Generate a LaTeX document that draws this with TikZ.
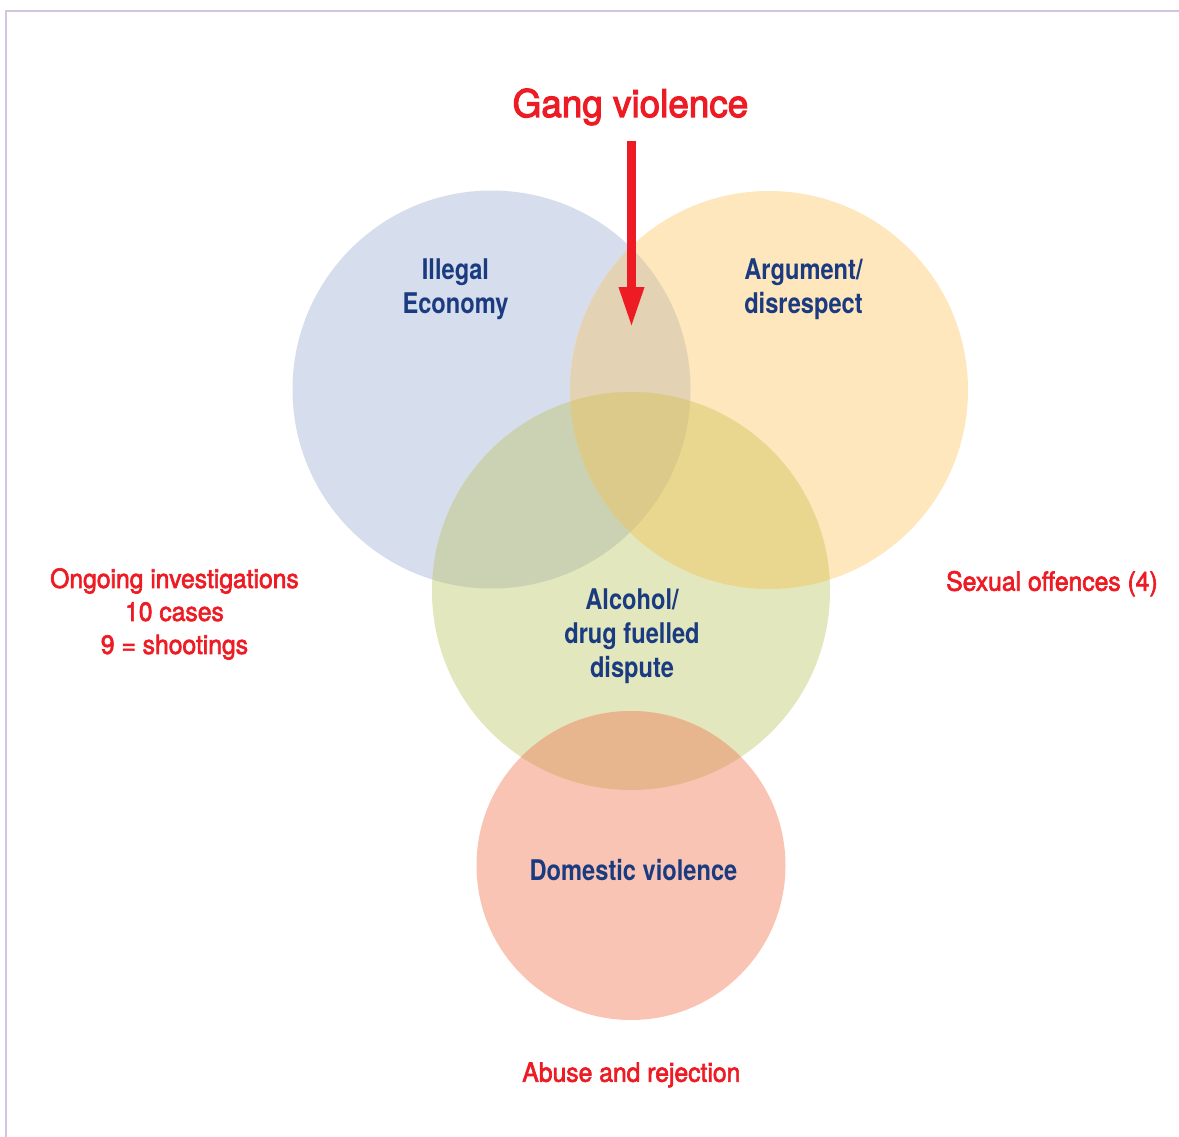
\documentclass[tikz,border=0pt]{standalone}
\usepackage{fontspec}
\setmainfont{TeX Gyre Heros}
\newfontfamily\bluefont[FakeStretch=0.83]{TeX Gyre Heros}
\newfontfamily\redfont[FakeStretch=0.935,FakeBold=2.5]{TeX Gyre Heros}
\newfontfamily\gangfont[FakeStretch=0.97,FakeBold=3]{TeX Gyre Heros}
\usetikzlibrary{arrows.meta}
\definecolor{cblue}{HTML}{D6DDEC}
\definecolor{corange}{HTML}{FEE6BD}
\definecolor{cgreen}{HTML}{E3E7BE}
\definecolor{cred}{HTML}{F9C4B4}
\definecolor{cbo}{HTML}{E4D2B5}
\definecolor{cbg}{HTML}{CAD2B3}
\definecolor{cog}{HTML}{E9D78F}
\definecolor{cbog}{HTML}{DBCA8A}
\definecolor{cgr}{HTML}{E8B68E}
\definecolor{textblue}{HTML}{1B3B80}
\definecolor{textred}{HTML}{ED1C24}
\definecolor{framecol}{HTML}{D4C4DE}
\begin{document}
\begin{tikzpicture}[x=1pt,y=-1pt,
  bluelabel/.style={inner sep=0pt, text=textblue, align=center,
    font=\bluefont\bfseries\fontsize{28.5}{34}\selectfont},
  redlabel/.style={inner sep=0pt, text=textred, align=center,
    font=\redfont\fontsize{26.4}{33}\selectfont},
  ganglabel/.style={inner sep=0pt, text=textred,
    font=\gangfont\fontsize{38}{44}\selectfont}]
\useasboundingbox (0,0) rectangle (1179,1137);
\def\cB{(491.5,389.5) circle[radius=199pt]}
\def\cO{(769,390) circle[radius=199pt]}
\def\cG{(631,591) circle[radius=199pt]}
\def\cR{(631,865.5) circle[radius=154.5pt]}
% frame
\draw[framecol, line width=1.7pt] (6,1137) -- (6,11) -- (1179,11);
% circles
\fill[cblue] \cB;
\fill[corange] \cO;
\fill[cgreen] \cG;
\fill[cred] \cR;
\begin{scope}\clip \cB; \fill[cbo] \cO; \end{scope}
\begin{scope}\clip \cB; \fill[cbg] \cG; \end{scope}
\begin{scope}\clip \cO; \fill[cog] \cG; \end{scope}
\begin{scope}\clip \cB; \clip \cO; \fill[cbog] \cG; \end{scope}
\begin{scope}\clip \cG; \fill[cgr] \cR; \end{scope}
% labels
\node[ganglabel, anchor=base] (gang) at (630.5,117) {Gang violence};
\coordinate (astart) at (631.5,141);
\coordinate (atip) at (631.5,328);
\draw[textred, line width=9pt, -{Triangle[length=41pt,width=23pt]}] (astart) -- (atip);
\node[bluelabel, anchor=north] (illegal) at (455.5,259) {Illegal\\Economy};
\node[bluelabel, anchor=north] (argument) at (803.5,259) {Argument/\\disrespect};
\node[bluelabel, anchor=north] (alcohol) at (632,589) {Alcohol/\\drug fuelled\\dispute};
\node[bluelabel, anchor=base] (domestic) at (633.5,880.7) {Domestic violence};
\node[redlabel, anchor=north] (ongoing) at (174.5,568) {Ongoing investigations\\10 cases\\9 = shootings};
\node[redlabel, anchor=base] (sexual) at (1052,590.7) {Sexual offences (4)};
\node[redlabel, anchor=base] (abuse) at (631.3,1081.7) {Abuse and rejection};
\end{tikzpicture}
\end{document}
